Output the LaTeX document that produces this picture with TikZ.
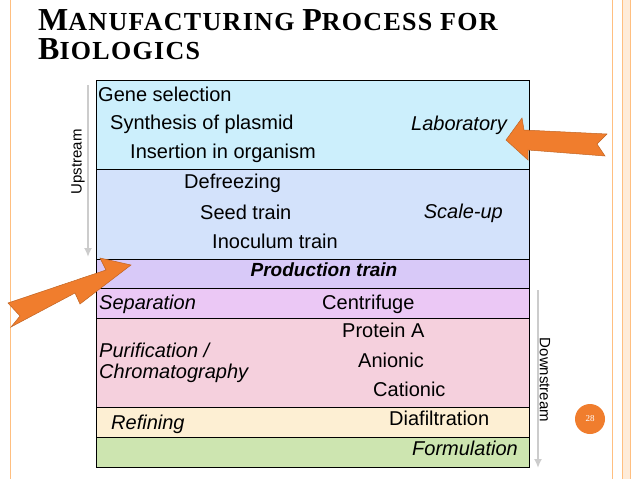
\documentclass[tikz,border=0pt]{standalone}
\usepackage{fontspec}
\setmainfont{Liberation Sans}
\newfontfamily\titlefont[LetterSpace=5]{Liberation Serif}
\newfontfamily\numfont{Liberation Serif}
\usetikzlibrary{arrows.meta}
\definecolor{orarr}{RGB}{240,125,45}
\begin{document}
\begin{tikzpicture}[x=1pt,y=-1pt,
  lbl/.style={anchor=west,inner sep=0pt,font=\fontsize{20}{24}\selectfont},
  it/.style={lbl,font=\fontsize{20}{24}\selectfont\itshape},
  row/.style={draw=black,line width=1pt},
  gray arrow/.style={draw=gray!40,line width=2pt,-{Latex[length=9pt,width=8pt]}},
  orarrow/.style={fill=orarr,draw=orarr!80!black,line width=0.5pt}]
\useasboundingbox (0,0) rectangle (638,479);
\fill[white] (0,0) rectangle (638,479);
% slide borders
\draw[orange!50,line width=1pt] (10,0) -- (10,479);
\fill[orange!15] (622,0) rectangle (630,479);
\draw[orange!50,line width=1pt] (612,0) -- (612,479);
\draw[orange!50,line width=0.8pt] (622,0) -- (622,479);
\draw[orange!50,line width=0.8pt] (630,0) -- (630,479);
% title
\node[anchor=west,inner sep=0pt,font=\titlefont\bfseries] (t1) at (38,20) {{\fontsize{32}{34}\selectfont M}{\fontsize{26}{28}\selectfont ANUFACTURING }{\fontsize{32}{34}\selectfont P}{\fontsize{26}{28}\selectfont ROCESS FOR}};
\node[anchor=west,inner sep=0pt,font=\titlefont\bfseries] (t2) at (38,49) {{\fontsize{32}{34}\selectfont B}{\fontsize{26}{28}\selectfont IOLOGICS}};
% rows
\filldraw[row,fill=cyan!20] (96,80) rectangle (529,169);
\filldraw[row,fill={rgb,255:red,211;green,226;blue,251}] (96,169) rectangle (529,259);
\filldraw[row,fill={rgb,255:red,216;green,201;blue,248}] (96,259) rectangle (529,288);
\filldraw[row,fill={rgb,255:red,235;green,200;blue,245}] (96,288) rectangle (529,318);
\filldraw[row,fill={rgb,255:red,245;green,208;blue,221}] (96,318) rectangle (529,407);
\filldraw[row,fill={rgb,255:red,253;green,239;blue,211}] (96,407) rectangle (529,437);
\filldraw[row,fill={rgb,255:red,205;green,229;blue,176}] (96,437) rectangle (529,467);
% texts
\node[lbl] (a1) at (98,94) {Gene selection};
\node[lbl] (a2) at (110,124) {Synthesis of plasmid};
\node[lbl] (a3) at (130,153) {Insertion in organism};
\node[it,anchor=east] (lab) at (507,125) {Laboratory};
\node[lbl] (b1) at (184,183) {Defreezing};
\node[lbl] (b2) at (200,212) {Seed train};
\node[lbl] (b3) at (212,241) {Inoculum train};
\node[it,anchor=east] (sc) at (503,213) {Scale-up};
\node[lbl,anchor=center,font=\fontsize{19}{22}\selectfont\bfseries\itshape] (pt) at (324,270) {Production train};
\node[it] (sep) at (99,304) {Separation};
\node[lbl] (cen) at (322,304) {Centrifuge};
\node[lbl] (pa) at (342,330) {Protein A};
\node[it] (pu1) at (99,350) {Purification /};
\node[it] (pu2) at (99,373) {Chromatography};
\node[lbl] (an) at (358,360) {Anionic};
\node[lbl] (ca) at (373,389) {Cationic};
\node[it] (ref) at (111,424) {Refining};
\node[lbl] (dia) at (389,418) {Diafiltration};
\node[it,anchor=east] (form) at (518,448) {Formulation};
% up/down arrows
\coordinate (u1) at (88,85); \coordinate (u2) at (88,257);
\draw[gray arrow] (u1) -- (u2);
\node[rotate=90,inner sep=0pt,font=\fontsize{15}{17}\selectfont] (up) at (78,162) {Upstream};
\coordinate (d1) at (538,290); \coordinate (d2) at (538,468);
\draw[gray arrow] (d1) -- (d2);
\node[rotate=-90,inner sep=0pt,font=\fontsize{15}{17}\selectfont] (down) at (545,380) {Downstream};
% orange arrows
\filldraw[orarrow] (607,134) -- (597,144) -- (605,156) -- (528,150) -- (528,160) -- (506,140) -- (522,118) -- (524,130) -- cycle;
\filldraw[orarrow] (8,303) -- (20,316) -- (11,327) -- (75,293) -- (80,304) -- (131,265) -- (100,258) -- (106,270) -- cycle;
% page number
\fill[orarr] (590,419) circle (15);
\node[text=white,font=\numfont\fontsize{9}{10}\selectfont] (pn) at (590,419) {28};
\end{tikzpicture}
\end{document}
